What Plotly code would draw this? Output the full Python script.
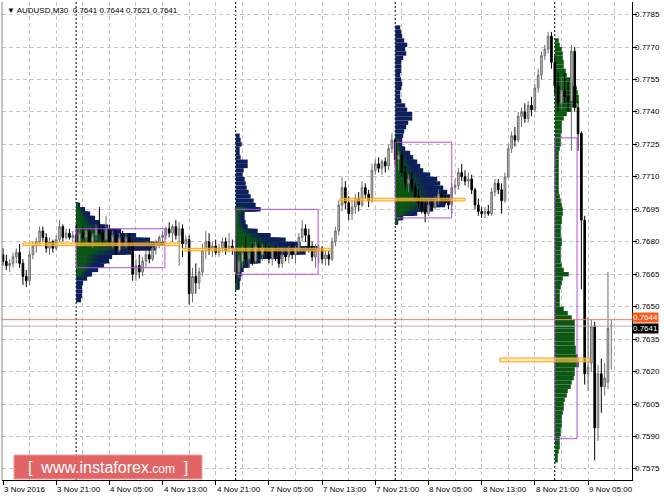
import plotly.graph_objects as go

# ---------------- data ----------------
opens = [.7674,.7671,.7669,.7670,.7673,.7675,.7670,.7664,.7662,.7674,
         .7678,.7680,.7685,.7682,.7677,.7680,.7677,.7681,.7687,.7682,
         .7684,.7682,.7683,.7680,.7684,.7682,.7685,.7680,.7683,.7686,
         .7684,.7681,.7686,.7680,.7683,.7676,.7682,.7680,.7682,.7678,
         .7665,.7669,.7666,.7671,.7674,.7672,.7677,.7679,.7682,.7683,
         .7686,.7684,.7687,.7683,.7686,.7679,.7681,.7656,.7664,.7661,
         .7666,.7676,.7680,.7676,.7678,.7675,.7677,.7680,.7676,.7678,
         .7677,.7666,.7671,.7675,.7672,.7675,.7671,.7678,.7674,.7677,
         .7675,.7672,.7676,.7673,.7670,.7674,.7673,.7676,.7674,.7677,
         .7682,.7686,.7683,.7677,.7673,.7676,.7677,.7672,.7674,.7672,
         .7680,.7685,.7697,.7705,.7698,.7693,.7696,.7700,.7697,.7705,
         .7702,.7699,.7713,.7716,.7714,.7717,.7715,.7723,.7727,.7718,
         .7720,.7712,.7707,.7709,.7705,.7701,.7698,.7695,.7693,.7697,
         .7696,.7699,.7702,.7700,.7698,.7697,.7705,.7706,.7712,.7710,
         .7708,.7709,.7704,.7697,.7694,.7693,.7694,.7693,.7703,.7707,
         .7704,.7699,.7710,.7723,.7729,.7727,.7738,.7740,.7737,.7743,
         .7741,.7751,.7757,.7766,.7769,.7775,.7763,.7752,.7744,.7750,
         .7747,.7745,.7768,.7742,.7730,.7690,.7619,.7624,.7641,.7594,
         .7619,.7613,.7615,.7641]
highs = [.7677,.7674,.7672,.7675,.7677,.7679,.7672,.7667,.7676,.7680,
         .7682,.7687,.7687,.7684,.7682,.7681,.7683,.7690,.7688,.7686,
         .7686,.7685,.7688,.7686,.7687,.7686,.7686,.7684,.7688,.7696,
         .7687,.7692,.7688,.7685,.7686,.7684,.7685,.7684,.7684,.7680,
         .7672,.7674,.7673,.7676,.7677,.7678,.7681,.7683,.7685,.7687,
         .7689,.7688,.7690,.7689,.7688,.7683,.7683,.7668,.7670,.7668,
         .7679,.7685,.7684,.7680,.7681,.7679,.7682,.7682,.7684,.7681,
         .7683,.7674,.7678,.7682,.7677,.7679,.7680,.7680,.7679,.7680,
         .7678,.7677,.7678,.7677,.7676,.7677,.7678,.7679,.7678,.7684,
         .7690,.7688,.7686,.7680,.7679,.7679,.7678,.7676,.7676,.7682,
         .7687,.7699,.7710,.7708,.7701,.7699,.7702,.7703,.7708,.7707,
         .7704,.7716,.7718,.7719,.7718,.7719,.7725,.7730,.7728,.7722,
         .7722,.7715,.7711,.7712,.7707,.7704,.7700,.7698,.7699,.7700,
         .7701,.7704,.7705,.7703,.7701,.7707,.7709,.7714,.7716,.7713,
         .7712,.7711,.7705,.7700,.7696,.7696,.7697,.7705,.7709,.7709,
         .7707,.7712,.7725,.7731,.7733,.7740,.7742,.7744,.7745,.7747,
         .7753,.7760,.7768,.7771,.7777,.7777,.7766,.7758,.7756,.7758,
         .7754,.7771,.7770,.7745,.7731,.7692,.7645,.7644,.7643,.7623,
         .7626,.7624,.7666,.7644]
lows = [.7669,.7667,.7666,.7668,.7670,.7668,.7660,.7659,.7660,.7672,
        .7675,.7678,.7680,.7675,.7674,.7675,.7676,.7680,.7680,.7681,
        .7681,.7680,.7678,.7678,.7681,.7679,.7678,.7677,.7681,.7683,
        .7679,.7680,.7678,.7677,.7674,.7675,.7678,.7677,.7676,.7662,
        .7662,.7663,.7664,.7668,.7670,.7671,.7674,.7677,.7679,.7681,
        .7682,.7680,.7681,.7669,.7673,.7676,.7651,.7652,.7656,.7658,
        .7664,.7672,.7674,.7673,.7674,.7673,.7675,.7674,.7675,.7674,
        .7661,.7663,.7668,.7670,.7668,.7669,.7670,.7672,.7671,.7673,
        .7670,.7669,.7671,.7668,.7668,.7671,.7670,.7672,.7670,.7675,
        .7680,.7680,.7675,.7671,.7668,.7670,.7670,.7669,.7669,.7671,
        .7678,.7683,.7694,.7695,.7690,.7690,.7693,.7694,.7696,.7700,
        .7696,.7698,.7711,.7712,.7711,.7712,.7713,.7721,.7715,.7713,
        .7710,.7705,.7703,.7703,.7699,.7696,.7693,.7689,.7692,.7694,
        .7695,.7697,.7698,.7697,.7695,.7693,.7702,.7704,.7708,.7706,
        .7705,.7702,.7695,.7692,.7691,.7691,.7692,.7692,.7701,.7702,
        .7693,.7698,.7709,.7721,.7724,.7726,.7733,.7735,.7735,.7738,
        .7740,.7749,.7755,.7764,.7767,.7760,.7748,.7740,.7741,.7744,
        .7740,.7722,.7740,.7722,.7658,.7614,.7611,.7620,.7579,.7588,
        .7601,.7609,.7612,.7621]
closes = [.7671,.7669,.7670,.7673,.7675,.7670,.7664,.7662,.7674,.7678,
          .7680,.7685,.7682,.7677,.7680,.7677,.7681,.7687,.7682,.7684,
          .7682,.7683,.7680,.7684,.7682,.7685,.7680,.7683,.7686,.7684,
          .7681,.7686,.7680,.7683,.7676,.7682,.7680,.7682,.7678,.7665,
          .7669,.7666,.7671,.7674,.7672,.7677,.7679,.7682,.7683,.7686,
          .7684,.7687,.7683,.7686,.7679,.7681,.7656,.7664,.7661,.7666,
          .7676,.7680,.7676,.7678,.7675,.7677,.7680,.7676,.7678,.7677,
          .7666,.7671,.7675,.7672,.7675,.7671,.7678,.7674,.7677,.7675,
          .7672,.7676,.7673,.7670,.7674,.7673,.7676,.7674,.7677,.7682,
          .7686,.7683,.7677,.7673,.7676,.7677,.7672,.7674,.7672,.7680,
          .7685,.7697,.7705,.7698,.7693,.7696,.7700,.7697,.7705,.7702,
          .7699,.7713,.7716,.7714,.7717,.7715,.7723,.7727,.7718,.7720,
          .7712,.7707,.7709,.7705,.7701,.7698,.7695,.7693,.7697,.7696,
          .7699,.7702,.7700,.7698,.7697,.7705,.7706,.7712,.7710,.7708,
          .7709,.7704,.7697,.7694,.7693,.7694,.7693,.7703,.7707,.7704,
          .7699,.7710,.7723,.7729,.7727,.7738,.7740,.7737,.7743,.7741,
          .7751,.7757,.7766,.7769,.7775,.7763,.7752,.7744,.7750,.7747,
          .7745,.7768,.7742,.7730,.7690,.7619,.7622,.7641,.7594,.7619,
          .7613,.7617,.7640,.7641]
bar_index = list(range(len(closes)))

x_tick_index = [0, 16, 32, 48, 64, 80, 96, 112, 128, 144, 160, 176]
x_tick_labels = ["3 Nov 2016", "3 Nov 21:00", "4 Nov 05:00", "4 Nov 13:00",
                 "4 Nov 21:00", "7 Nov 05:00", "7 Nov 13:00", "7 Nov 21:00",
                 "8 Nov 05:00", "8 Nov 13:00", "8 Nov 21:00", "9 Nov 05:00"]

y_tick_vals = [0.7575, 0.7590, 0.7605, 0.7620, 0.7635, 0.7650, 0.7665, 0.7680,
               0.7695, 0.7710, 0.7725, 0.7740, 0.7755, 0.7770, 0.7785]
y_tick_labels = ["0.7575", "0.7590", "0.7605", "0.7620", "0.7635", "0.7650", "0.7665", "0.7680",
                 "0.7695", "0.7710", "0.7725", "0.7740", "0.7755", "0.7770", "0.7785"]

day_start_index = [22, 70, 118, 166]

# market profiles (one per day): top price level and volumes per 0.0002 level (top -> bottom)
prof_top = [0.7697, 0.7729, 0.7779, 0.7773]
prof_step = 0.0002
prof1_vol = [4, 9, 14, 19, 24, 32, 45, 60, 74, 88, 80, 55, 36, 33, 28, 22, 16, 11, 7, 6, 6, 6, 5]
prof2_vol = [4, 5, 6, 4, 4, 5, 12, 12, 8, 7,
             9, 10, 11, 13, 15, 18, 20, 25, 9, 9,
             10, 12, 22, 35, 50, 65, 82, 70, 45, 25,
             14, 8, 6, 5, 4, 4]
prof3_vol = [5, 6, 7, 9, 12, 10, 11, 8, 6, 6,
             6, 5, 6, 7, 6, 5, 5, 6, 10, 12,
             17, 17, 13, 11, 9, 8, 7, 7, 10, 15,
             18, 22, 25, 28, 35, 42, 45, 48, 52, 55,
             57, 50, 38, 22, 8, 3]
prof4_vol = [4, 5, 7, 8, 8, 9, 9, 11, 12, 17,
             18, 22, 23, 24, 24, 22, 17, 12, 9, 7,
             7, 7, 6, 6, 6, 5, 4, 4, 4, 4,
             4, 4, 4, 4, 4, 4, 5, 6, 7, 8,
             8, 7, 7, 6, 6, 6, 7, 7, 6, 6,
             6, 6, 7, 9, 14, 8, 7, 6, 5, 5,
             5, 5, 9, 13, 17, 20, 20, 20, 20, 20,
             20, 21, 21, 23, 24, 24, 20, 20, 19, 17,
             16, 13, 12, 10, 9, 9, 8, 7, 7, 7,
             6, 6, 5, 5, 5, 4, 3, 3]
prof_vols = [prof1_vol, prof2_vol, prof3_vol, prof4_vol]

# value areas (boxes)
va_high = [0.7686, 0.7695, 0.7726, 0.7728]
va_low = [0.7668, 0.7665, 0.7691, 0.7589]
va_end_index = [48.7, 94.8, 135.0, 172.7]

# POC levels (orange)
poc_price = [0.76788, 0.76764, 0.76995, 0.76254]
poc_start = [6.0, 54.0, 101.4, 149.5]
poc_end = [53.2, 98.4, 139.0, 176.6]

ask_price = 0.7644
bid_price = 0.7641

y_min, y_max = 0.75699, 0.77908

# ---------------- styling helpers ----------------
PX_PER_BAR = 3.324
GREEN = (12, 88, 18)
NAVY = (14, 32, 92)
grad_lo = [0.7665, 0.7655, 0.7685, 0.0]
grad_hi = [0.7700, 0.7695, 0.7727, 1.0]
FONT = "Liberation Sans"


def mix(t):
    r = [round(GREEN[j] + (NAVY[j] - GREEN[j]) * t) for j in range(3)]
    return "rgb(%d,%d,%d)" % tuple(r)


def tfun(f):
    return min(max((f - 0.22) / 0.45, 0.0), 1.0)


grad_y, grad_L, grad_b = [], [], []
navy_y, navy_L, navy_b = [], [], []
green_y, green_L, green_b = [], [], []
for p in range(4):
    vols = prof_vols[p]
    for k, v in enumerate(vols):
        lv = round(prof_top[p] - prof_step * k, 4)
        L = v / PX_PER_BAR
        if p == 3:
            green_y.append(lv); green_L.append(L); green_b.append(day_start_index[p])
        elif grad_lo[p] <= lv <= grad_hi[p]:
            grad_y.append(lv); grad_L.append(L); grad_b.append(day_start_index[p])
        else:
            navy_y.append(lv); navy_L.append(L); navy_b.append(day_start_index[p])

fig = go.Figure()


def hbar(y, x, base, color):
    return go.Bar(y=y, x=x, base=base, orientation="h", width=prof_step,
                  marker=dict(color=color, line=dict(width=0)),
                  hoverinfo="skip", showlegend=False)


fig.add_trace(hbar(navy_y, navy_L, navy_b, mix(1.0)))
fig.add_trace(hbar(green_y, green_L, green_b, mix(0.0)))
K = 10
for k in range(K, 0, -1):
    fig.add_trace(hbar(grad_y, [L * k / K for L in grad_L], grad_b, mix(tfun((k - 0.5) / K))))

fig.add_trace(go.Candlestick(
    x=bar_index, open=opens, high=highs, low=lows, close=closes,
    increasing=dict(line=dict(color="#6e6e6e", width=1), fillcolor="#c8c8c8"),
    decreasing=dict(line=dict(color="#000000", width=1), fillcolor="#000000"),
    whiskerwidth=0, hoverinfo="skip", showlegend=False))

shapes = []
for d in day_start_index:
    shapes.append(dict(type="line", xref="x", yref="paper", x0=d, x1=d, y0=0, y1=1,
                       line=dict(color="#000000", width=1, dash="2px,2px"), layer="below"))
shapes.append(dict(type="line", xref="paper", yref="paper", x0=0, x1=0, y0=0, y1=1,
                   line=dict(color="#888888", width=1)))
for p in range(4):
    shapes.append(dict(type="rect", xref="x", yref="y", x0=day_start_index[p], x1=va_end_index[p],
                       y0=va_low[p], y1=va_high[p], line=dict(color="#b050e0", width=1),
                       fillcolor="rgba(0,0,0,0)"))
for p in range(4):
    h = 0.00009 if p == 3 else 0.00006
    shapes.append(dict(type="rect", xref="x", yref="y", x0=poc_start[p], x1=poc_end[p],
                       y0=poc_price[p] - h, y1=poc_price[p] + h,
                       line=dict(color="#ffa500", width=1), fillcolor="rgba(255,215,140,0.6)"))
shapes.append(dict(type="line", xref="paper", yref="y", x0=0, x1=1, y0=ask_price, y1=ask_price,
                   line=dict(color="#f47a5c", width=1)))
shapes.append(dict(type="line", xref="paper", yref="y", x0=0, x1=1, y0=bid_price, y1=bid_price,
                   line=dict(color="#b0b0b0", width=1)))
shapes.append(dict(type="rect", xref="paper", yref="paper", x0=0.019, x1=0.3175, y0=0.002, y1=0.0523,
                   line=dict(color="#f0a0a0", width=1), fillcolor="rgba(222,88,88,0.92)"))

annotations = []
for idx, lab in zip(x_tick_index, x_tick_labels):
    annotations.append(dict(x=idx, y=0, xref="x", yref="paper", text=lab, showarrow=False,
                            xanchor="left", yanchor="top", yshift=-3, xshift=-1,
                            font=dict(size=8, color="black", family=FONT)))
for v, lab in zip(y_tick_vals, y_tick_labels):
    annotations.append(dict(x=1, y=v, xref="paper", yref="y", text=lab, showarrow=False,
                            xanchor="left", yanchor="middle", xshift=1,
                            font=dict(size=8, color="black", family=FONT)))
annotations.append(dict(x=0, y=1, xref="paper", yref="paper", xanchor="left", yanchor="top",
                        xshift=3, yshift=-2, showarrow=False,
                        text="▼ AUDUSD,M30  0.7641 0.7644 0.7621 0.7641",
                        font=dict(size=8, color="black", family=FONT)))
annotations.append(dict(x=1, y=ask_price, xref="paper", yref="y", xanchor="left", yanchor="middle",
                        showarrow=False, text="0.7644", bgcolor="#ff5a1e", borderpad=0, xshift=0,
                        yshift=2, font=dict(size=8, color="white", family=FONT)))
annotations.append(dict(x=1, y=bid_price, xref="paper", yref="y", xanchor="left", yanchor="middle",
                        showarrow=False, text="0.7641", bgcolor="#000000", borderpad=0, xshift=0,
                        yshift=-2, font=dict(size=8, color="white", family=FONT)))
annotations.append(dict(x=0.168, y=0.027, xref="paper", yref="paper", xanchor="center", yanchor="middle",
                        showarrow=False,
                        text="[  www.instaforex<span style='font-size:12px'>.com</span>  ]",
                        font=dict(size=16, color="white", family=FONT)))

fig.update_layout(
    width=664, height=498, margin=dict(l=2, r=32, t=2, b=18),
    paper_bgcolor="white", plot_bgcolor="white", barmode="overlay", showlegend=False,
    font=dict(family=FONT, size=8, color="black"),
    shapes=shapes, annotations=annotations,
)
grid = dict(showgrid=True, gridcolor="#c4c4c4", gridwidth=1, griddash="4px,3px")
fig.update_xaxes(range=[-0.3, 189.23], tickmode="linear", tick0=0, dtick=16,
                 ticks="outside", ticklen=4, tickcolor="black", showticklabels=False,
                 minor=dict(tick0=0, dtick=8, showgrid=True, gridcolor="#c4c4c4",
                            griddash="4px,3px", ticks=""),
                 showline=True, linecolor="black", linewidth=1, zeroline=False,
                 rangeslider_visible=False, fixedrange=True, **grid)
fig.update_yaxes(range=[y_min, y_max], side="right", tickmode="array", tickvals=y_tick_vals,
                 ticks="outside", ticklen=4, tickcolor="black", showticklabels=False,
                 showline=True, linecolor="black", linewidth=1, zeroline=False, fixedrange=True, **grid)

fig.write_html("out.html", config={"displayModeBar": False},
               post_script="document.body.style.margin='0px';document.body.style.overflow='hidden';")
